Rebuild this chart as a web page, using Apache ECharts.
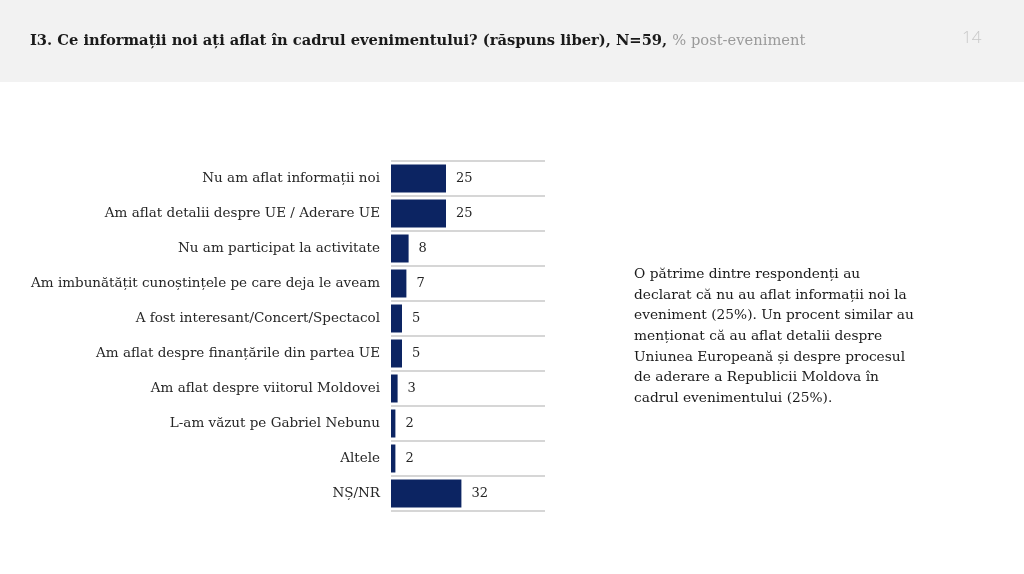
<!DOCTYPE html>
<html><head><meta charset="utf-8">
<script src="https://cdn.jsdelivr.net/npm/echarts@6/dist/echarts.min.js"></script>
<style>html,body{margin:0;padding:0;background:#fff}#c{width:1024px;height:574px}</style>
</head><body><div id="c"></div>
<script>
const categories = [
  "Nu am aflat informații noi",
  "Am aflat detalii despre UE / Aderare UE",
  "Nu am participat la activitate",
  "Am imbunătățit cunoștințele pe care deja le aveam",
  "A fost interesant/Concert/Spectacol",
  "Am aflat despre finanțările din partea UE",
  "Am aflat despre viitorul Moldovei",
  "L-am văzut pe Gabriel Nebunu",
  "Altele",
  "NȘ/NR"
];
const values = [25, 25, 8, 7, 5, 5, 3, 2, 2, 32];
const titleMain = "I3. Ce informații noi ați aflat în cadrul evenimentului? (răspuns liber), N=59, ";
const titleSub = "% post-eveniment";
const pageNum = "14";
const noteLines = [
  "O pătrime dintre respondenți au",
  "declarat că nu au aflat informații noi la",
  "eveniment (25%). Un procent similar au",
  "menționat că au aflat detalii despre",
  "Uniunea Europeană și despre procesul",
  "de aderare a Republicii Moldova în",
  "cadrul evenimentului (25%)."
];
const serif = "'DejaVu Serif', 'Liberation Serif', serif";
const chart = echarts.init(document.getElementById('c'));
chart.setOption({
  backgroundColor: '#ffffff',
  animation: false,
  graphic: [
    {type: 'rect', shape: {x: 0, y: 0, width: 1024, height: 82}, style: {fill: '#f2f2f2'}, z: -1},
    {type: 'text', left: 30, top: 34, style: {
      text: '{a|' + titleMain + '}{b|' + titleSub + '}',
      rich: {
        a: {fontFamily: serif, fontSize: 14.7, fontWeight: 'bold', fill: '#1a1a1a'},
        b: {fontFamily: serif, fontSize: 14.7, fill: '#9a9a9a'}
      }
    }},
    {type: 'text', left: 962, top: 30, style: {text: pageNum, fontFamily: "'Open Sans', sans-serif", fontSize: 17, fontWeight: 300, fill: '#c8c8c8'}},
    {type: 'text', left: 634, top: 264, style: {text: noteLines.join('\n'), fontFamily: serif, fontSize: 13.75, lineHeight: 20.7, fill: '#1a1a1a'}}
  ],
  grid: {left: 391, top: 161, width: 154, height: 350, containLabel: false},
  xAxis: {type: 'value', min: 0, max: 70, show: false},
  yAxis: {
    type: 'category', data: categories, inverse: true,
    axisLine: {show: false}, axisTick: {show: false},
    axisLabel: {fontFamily: serif, fontSize: 13.5, color: '#262626', margin: 11},
    splitLine: {show: true, lineStyle: {color: '#d6d6d6', width: 2}}
  },
  series: [{
    type: 'bar', data: values, barWidth: 28,
    itemStyle: {color: '#0c2462'},
    label: {show: true, position: 'right', distance: 10, fontFamily: serif, fontSize: 13, color: '#262626'}
  }]
});
</script></body></html>
